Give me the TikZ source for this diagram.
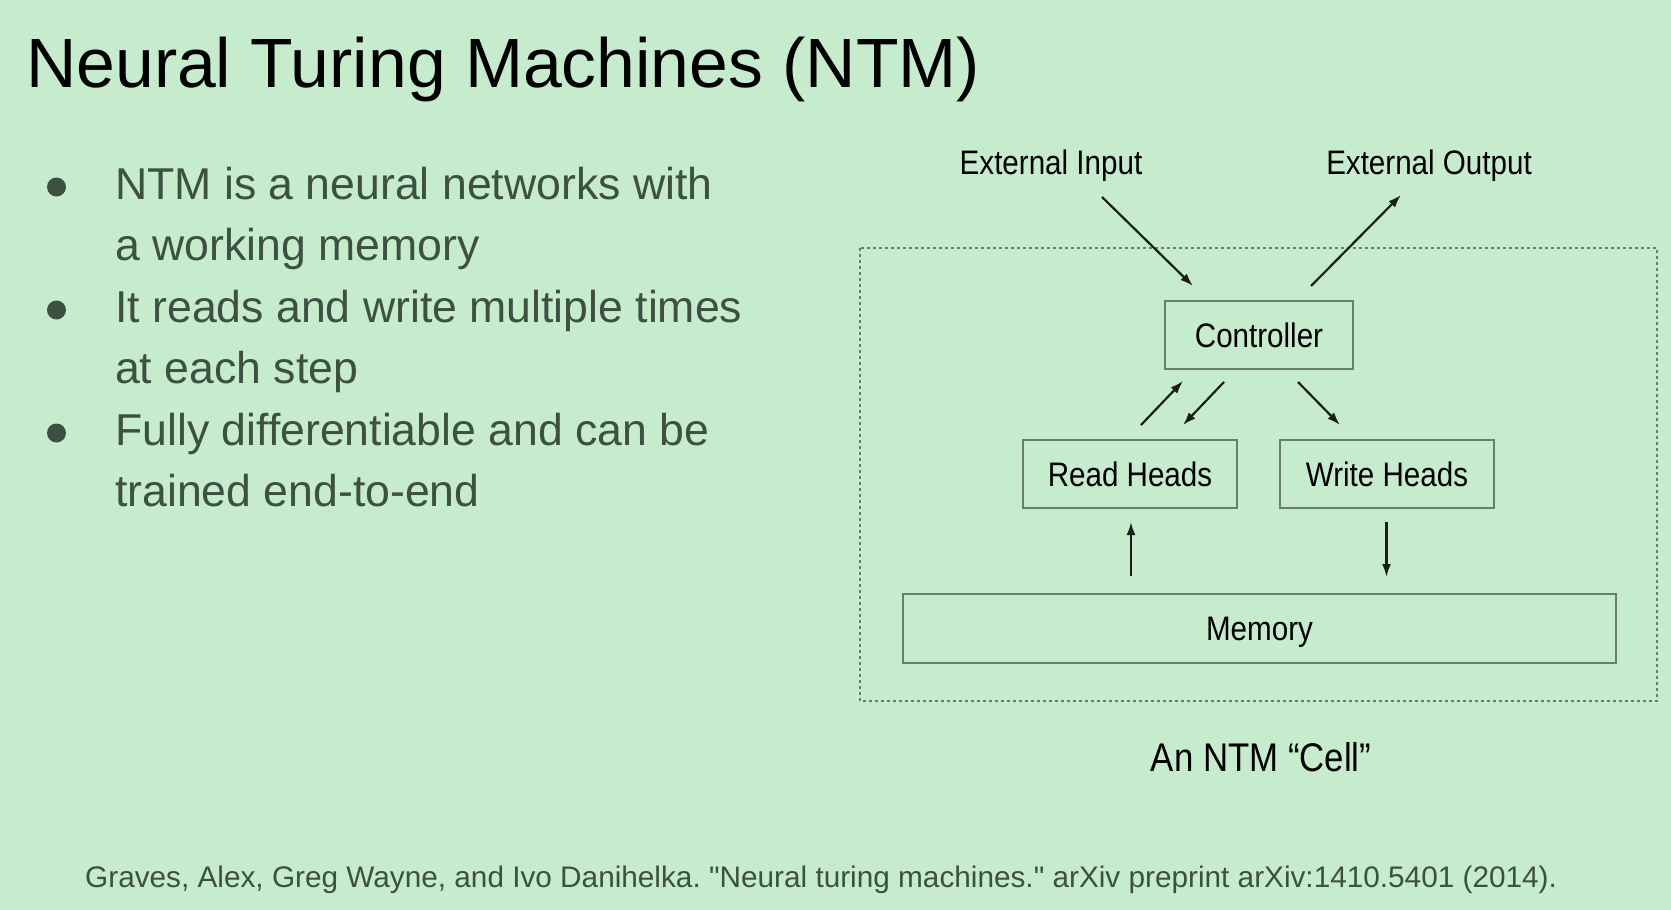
\documentclass[tikz,border=0pt]{standalone}
\usepackage{fontspec}
\setmainfont{Liberation Sans}
\newfontfamily\diagfont[FakeStretch=0.87]{Liberation Sans}
\newfontfamily\reffont[Ligatures=TeXOff]{Liberation Sans}
\usetikzlibrary{arrows.meta}
\definecolor{slidebg}{RGB}{198,236,205}
\definecolor{bodytext}{RGB}{61,80,66}
\definecolor{boxline}{RGB}{108,125,109}
\definecolor{cellline}{RGB}{112,122,112}
\definecolor{arrowcol}{RGB}{25,30,25}
\tikzset{
  body/.style={anchor=base west, text=bodytext, font=\fontsize{44.6}{44.6}\selectfont, inner sep=0pt},
  dot/.style={circle, fill=bodytext, minimum size=19pt, inner sep=0pt},
  unit/.style={draw=boxline, line width=2pt, inner sep=0pt, text=black,
    text height=24.5pt, text depth=0pt,
    font=\diagfont\fontsize{34}{34}\selectfont},
  lbl/.style={text=black, font=\diagfont\fontsize{34}{34}\selectfont, inner sep=0pt,
    text height=24.5pt, text depth=0pt},
  flow/.style={draw=arrowcol, line width=2.2pt, -{Latex[length=13pt,width=9pt]}},
}
\frenchspacing
\begin{document}
\begin{tikzpicture}[x=1pt,y=-1pt]
  \useasboundingbox[fill=slidebg] (0,0) rectangle (1671,910);

  % title
  \node[anchor=base west, inner sep=0pt, font=\fontsize{69.7}{69.7}\selectfont] (title) at (26,87) {Neural Turing Machines (NTM)};

  % bullet list
  \node[dot] (b1) at (56.5,187) {};
  \node[body] (l1) at (115,199) {NTM is a neural networks with};
  \node[body] (l2) at (115,260.5) {a working memory};
  \node[dot] (b2) at (56.5,310) {};
  \node[body] (l3) at (115,322) {It reads and write multiple times};
  \node[body] (l4) at (115,383.5) {at each step};
  \node[dot] (b3) at (56.5,433) {};
  \node[body] (l5) at (115,445) {Fully differentiable and can be};
  \node[body] (l6) at (115,506.5) {trained end-to-end};

  % NTM cell
  \draw[cellline, line width=1.6pt, dash pattern=on 3pt off 3pt] (860,248) rectangle (1657,701);
  \node[unit, minimum width=188pt, minimum height=68pt] (ctrl) at (1259,335) {Controller};
  \node[unit, minimum width=214pt, minimum height=68pt] (read) at (1130,474) {Read Heads};
  \node[unit, minimum width=214pt, minimum height=68pt] (write) at (1387,474) {Write Heads};
  \node[unit, minimum width=713pt, minimum height=69pt] (mem) at (1259.5,628) {Memory};

  \node[lbl] (extin) at (1051,162) {External Input};
  \node[lbl] (extout) at (1429,162) {External Output};

  \coordinate (inA) at (1102,197);
  \coordinate (inB) at (1193,286);
  \coordinate (outA) at (1311,286);
  \coordinate (outB) at (1401,195);
  \coordinate (rcA) at (1141,425);
  \coordinate (rcB) at (1183,381);
  \coordinate (crA) at (1224,382);
  \coordinate (crB) at (1183,425);
  \coordinate (cwA) at (1298,382);
  \coordinate (cwB) at (1340,425);
  \coordinate (mrA) at (1131,576);
  \coordinate (mrB) at (1131,522);
  \coordinate (wmA) at (1386.5,522);
  \coordinate (wmB) at (1386.5,577);

  \draw[flow] (inA) -- (inB);
  \draw[flow] (outA) -- (outB);
  \draw[flow] (rcA) -- (rcB);
  \draw[flow] (crA) -- (crB);
  \draw[flow] (cwA) -- (cwB);
  \draw[flow] (mrA) -- (mrB);
  \draw[flow] (wmA) -- (wmB);

  \node[text=black, inner sep=0pt, font=\diagfont\fontsize{40}{40}\selectfont] (caption) at (1261,757) {An NTM “Cell”};

  % reference
  \node[anchor=base west, inner sep=0pt, text=bodytext, font=\reffont\fontsize{29.75}{29.75}\selectfont] (ref) at (85,887) {Graves, Alex, Greg Wayne, and Ivo Danihelka. "Neural turing machines." arXiv preprint arXiv:1410.5401 (2014).};
\end{tikzpicture}
\end{document}
